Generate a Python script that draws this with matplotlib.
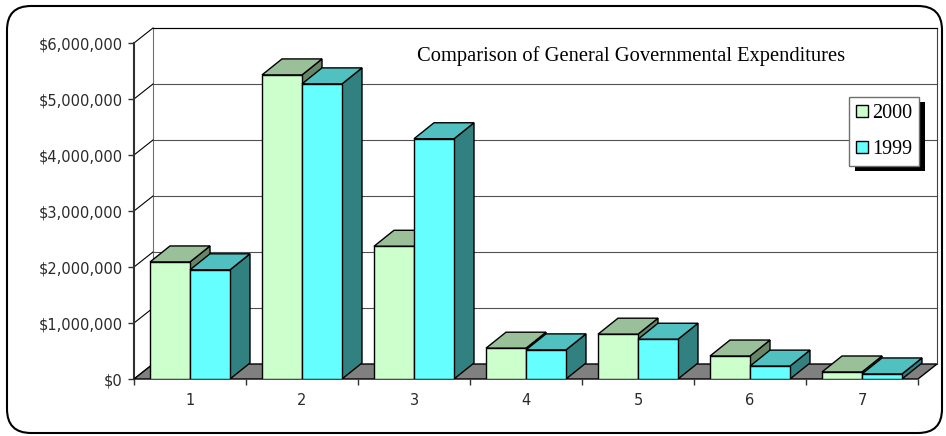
import numpy as np
import matplotlib
matplotlib.use("Agg")
import matplotlib.pyplot as plt
from matplotlib.patches import Polygon, Rectangle, FancyBboxPatch
from matplotlib.ticker import FuncFormatter

categories = ["1", "2", "3", "4", "5", "6", "7"]
series_names = ["2000", "1999"]
vals_2000 = [2090000, 5430000, 2370000, 550000, 800000, 410000, 125000]
vals_1999 = [1950000, 5270000, 4290000, 520000, 710000, 230000, 90000]
yticks = [0, 1000000, 2000000, 3000000, 4000000, 5000000, 6000000]
title = "Comparison of General Governmental Expenditures"

front_cols = ["#CCFFCC", "#66FFFF"]
top_cols = ["#99C099", "#50C0C0"]
side_cols = ["#688568", "#338080"]

W, H = 946, 436
fig = plt.figure(figsize=(W / 100, H / 100), dpi=100)

# pixel scale of the data
pxx = 112.  # px per category
pxy = 56.   # px per 1e6
ax = fig.add_axes([134 / W, (H - 379) / H, 7.2 * pxx / W, 6.3 * pxy / H])
ax.set_xlim(0, 7.2)
ax.set_ylim(0, 6.3e6)
ax.set_facecolor("none")
for s in ax.spines.values():
    s.set_visible(False)

# depth offsets (walls / floor and bars)
dx = 19 / pxx
dy = 15 / pxy * 1e6
bdx = 20 / pxx
bdy = 16 / pxy * 1e6
n = len(categories)
ymax = yticks[-1]

# floor
ax.add_patch(Polygon([(0, 0), (n, 0), (n + dx, dy), (dx, dy)], closed=True,
                     facecolor="#808080", edgecolor="black", lw=1, zorder=1, clip_on=False))
# back wall grid + side wall diagonals
for v in yticks[1:]:
    ax.plot([dx, n + dx], [v + dy, v + dy], color="#505050", lw=0.8, zorder=0.5, clip_on=False)
for v in yticks:
    ax.plot([0, dx], [v, v + dy], color="black", lw=0.8, zorder=0.6, clip_on=False)
ax.plot([dx, dx], [dy, ymax + dy], color="#707070", lw=0.8, zorder=0.5, clip_on=False)
ax.plot([n + dx, n + dx], [dy, ymax + dy], color="#404040", lw=0.8, zorder=0.5, clip_on=False)
ax.plot([dx, n + dx], [ymax + dy, ymax + dy], color="black", lw=0.8, zorder=0.5, clip_on=False)
ax.plot([0, 0], [0, ymax], color="#303030", lw=1.5, zorder=0.7, clip_on=False)

# bars
bw = 40 / pxx
x0 = np.arange(n) + 16 / pxx
handles = []
for j, vals in enumerate([vals_2000, vals_1999]):
    left = x0 + j * bw
    bars = ax.bar(left, vals, width=bw, align="edge", color=front_cols[j],
                  edgecolor="black", lw=1, label=series_names[j])
    handles.append(bars)
    for i, (b, v) in enumerate(zip(bars, vals)):
        z = 2 + i * 0.1 + j * 0.03
        l = left[i]
        r = l + bw
        ax.add_patch(Polygon([(r, 0), (r + bdx, bdy), (r + bdx, v + bdy), (r, v)], closed=True,
                             facecolor=side_cols[j], edgecolor="black", lw=1, zorder=z))
        ax.add_patch(Polygon([(l, v), (r, v), (r + bdx, v + bdy), (l + bdx, v + bdy)], closed=True,
                             facecolor=top_cols[j], edgecolor="black", lw=1, zorder=z + 0.01))
        b.set_zorder(z + 0.02)

# ticks
ax.set_yticks(yticks)
ax.yaxis.set_major_formatter(FuncFormatter(lambda v, p: "${:,.0f}".format(v)))
ax.set_xticks(np.arange(n + 1))
ax.set_xticklabels([])
ax.set_xticks(np.arange(n) + 0.5, minor=True)
ax.set_xticklabels(categories, minor=True)
ax.tick_params(axis="y", length=4, width=1, color="#303030", pad=4, labelsize=10.5, labelcolor="#2a2a2a")
ax.tick_params(axis="x", which="major", length=4, width=1, color="#303030", direction="out")
ax.tick_params(axis="x", which="minor", length=0, pad=10, labelsize=10.5, labelcolor="#2a2a2a")

fig.text(631 / W, 1 - 56 / H, title, ha="center", va="center",
         family="Liberation Serif", fontsize=14.8)

leg = ax.legend(handles=handles, labels=series_names, loc="upper left",
                bbox_to_anchor=(849 / W, 1 - 97 / H), bbox_transform=fig.transFigure,
                borderaxespad=0, fancybox=False, edgecolor="#707070", framealpha=1,
                prop={"family": "Liberation Serif", "size": 14.5},
                handlelength=0.6, handleheight=0.6, handletextpad=0.2,
                borderpad=0.35, labelspacing=0.85)
leg.get_frame().set_linewidth(1)
leg.set_zorder(6)

fig.canvas.draw()
bb = leg.get_window_extent(fig.canvas.get_renderer())
ax.add_patch(Rectangle((bb.x0 + 6, bb.y0 - 5), bb.width, bb.height, transform=None,
                       facecolor="black", edgecolor="none", zorder=5.9, clip_on=False))

# outer rounded frame
fig.patches.append(FancyBboxPatch((7, H - 433), 935, 427, boxstyle="round,pad=0,rounding_size=24",
                                  transform=None, facecolor="none", edgecolor="black", lw=1.5))

fig.savefig("out.png", dpi=100)
